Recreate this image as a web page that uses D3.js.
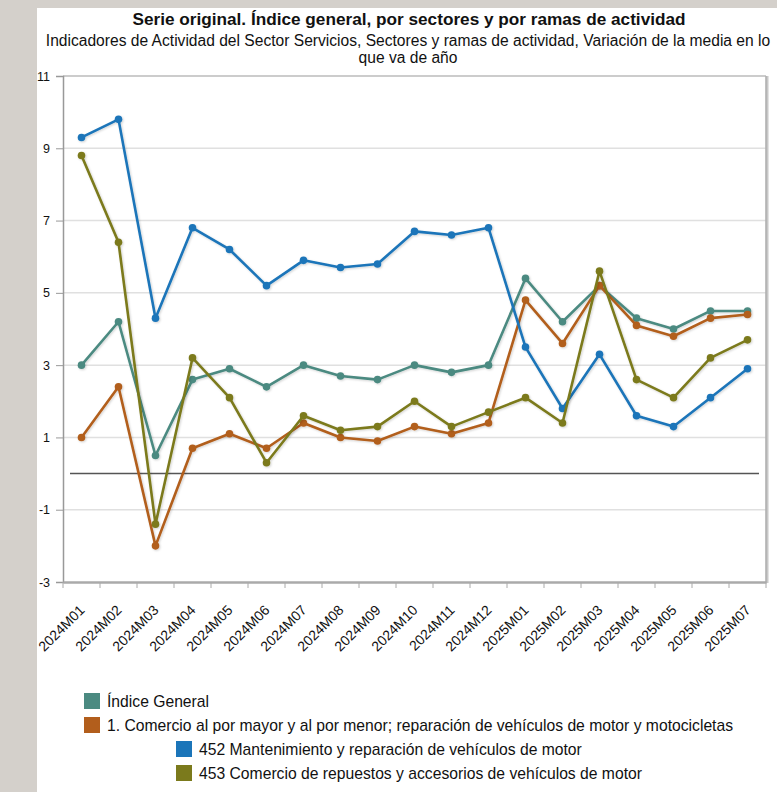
<!DOCTYPE html>
<html><head><meta charset="utf-8">
<script src="https://cdn.jsdelivr.net/npm/d3@7"></script>
<style>
html,body{margin:0;padding:0;background:#d4d0cb;}
svg{display:block;font-family:"Liberation Sans",Arial,sans-serif;}
</style></head>
<body>
<svg id="chart" width="777" height="792"></svg>
<script>
const categories = ["2024M01","2024M02","2024M03","2024M04","2024M05","2024M06","2024M07","2024M08","2024M09","2024M10","2024M11","2024M12","2025M01","2025M02","2025M03","2025M04","2025M05","2025M06","2025M07"];
const indiceGeneral = [3.0,4.2,0.5,2.6,2.9,2.4,3.0,2.7,2.6,3.0,2.8,3.0,5.4,4.2,5.2,4.3,4.0,4.5,4.5];
const comercio = [1.0,2.4,-2.0,0.7,1.1,0.7,1.4,1.0,0.9,1.3,1.1,1.4,4.8,3.6,5.2,4.1,3.8,4.3,4.4];
const mantenimiento452 = [9.3,9.8,4.3,6.8,6.2,5.2,5.9,5.7,5.8,6.7,6.6,6.8,3.5,1.8,3.3,1.6,1.3,2.1,2.9];
const repuestos453 = [8.8,6.4,-1.4,3.2,2.1,0.3,1.6,1.2,1.3,2.0,1.3,1.7,2.1,1.4,5.6,2.6,2.1,3.2,3.7];
const yTicks = [-3,-1,1,3,5,7,9,11];
const seriesNames = ["Índice General","1. Comercio al por mayor y al por menor; reparación de vehículos de motor y motocicletas","452 Mantenimiento y reparación de vehículos de motor","453 Comercio de repuestos y accesorios de vehículos de motor"];
const seriesColors = ["#4b8a81","#b25e1c","#1b75b9","#7b7a1c"];
const titleText = "Serie original. Índice general, por sectores y por ramas de actividad";
const subtitleLines = ["Indicadores de Actividad del Sector Servicios, Sectores y ramas de actividad, Variación de la media en lo","que va de año"];

const seriesData = [indiceGeneral, comercio, mantenimiento452, repuestos453];

const svg = d3.select("#chart");
svg.append("rect").attr("x",37).attr("y",8).attr("width",740).attr("height",784).attr("fill","#fff");

const defs = svg.append("defs");
const f = defs.append("filter").attr("id","sh").attr("x","-20%").attr("y","-20%").attr("width","140%").attr("height","140%");
f.append("feDropShadow").attr("dx",1).attr("dy",1).attr("stdDeviation",0.8).attr("flood-color","#000").attr("flood-opacity",0.18);

const pLeft = 63, pRight = 766, pTop = 76, pBottom = 582;
const x = d3.scaleBand().domain(categories).range([pLeft,pRight]);
const y = d3.scaleLinear().domain([-3,11]).range([pBottom,pTop]);

svg.append("text").attr("x",409).attr("y",25).attr("text-anchor","middle")
  .attr("font-size",17.2).attr("font-weight","bold").attr("fill","#111").text(titleText);
subtitleLines.forEach((t,i)=>{
  svg.append("text").attr("x",408).attr("y",46+i*17).attr("text-anchor","middle")
    .attr("font-size",15.6).attr("fill","#111").text(t);
});

svg.append("g").selectAll("line").data(yTicks.filter(v=>v>-3 && v<11)).join("line")
  .attr("x1",pLeft).attr("x2",pRight).attr("y1",d=>y(d)).attr("y2",d=>y(d))
  .attr("stroke","#e0e0e0").attr("stroke-width",1.5);

svg.append("line").attr("x1",pLeft).attr("x2",pRight).attr("y1",pTop).attr("y2",pTop).attr("stroke","#bbb").attr("stroke-width",1.5);
svg.append("line").attr("x1",pRight+1).attr("x2",pRight+1).attr("y1",pTop).attr("y2",pBottom+1).attr("stroke","#c8c8c8").attr("stroke-width",3);
svg.append("line").attr("x1",pRight).attr("x2",pRight).attr("y1",pTop).attr("y2",pBottom).attr("stroke","#a8a8a8").attr("stroke-width",1.2);

const yAxis = d3.axisLeft(y).tickValues(yTicks).tickSize(7).tickPadding(6).tickFormat(d=>String(d));
const gy = svg.append("g").attr("transform",`translate(${pLeft},0)`).call(yAxis);
gy.select(".domain").attr("stroke","#999").attr("stroke-width",1.5);
gy.selectAll(".tick line").attr("stroke","#999");
gy.selectAll("text").attr("font-size",12.5).attr("fill","#111").attr("font-family","Liberation Sans, Arial, sans-serif");

const xAxis = d3.axisBottom(x).tickSize(6).tickSizeOuter(0);
const gx = svg.append("g").attr("transform",`translate(0,${pBottom})`).call(xAxis);
gx.select(".domain").attr("stroke","#aaa").attr("stroke-width",2.5);
gx.selectAll(".tick line").attr("stroke","#aaa").attr("transform",`translate(${-x.bandwidth()/2},0)`);
gx.selectAll("text").attr("font-size",14).attr("fill","#111").attr("font-family","Liberation Sans, Arial, sans-serif")
  .attr("text-anchor","end").attr("dy",0).attr("y",0)
  .attr("transform","translate(4,29) rotate(-45)");
svg.append("line").attr("x1",pRight).attr("x2",pRight).attr("y1",pBottom).attr("y2",pBottom+6).attr("stroke","#aaa");

svg.append("line").attr("x1",70).attr("x2",759).attr("y1",y(0)).attr("y2",y(0)).attr("stroke","#555").attr("stroke-width",1.5);

const line = d3.line().x((d,i)=>x(categories[i])+x.bandwidth()/2).y(d=>y(d));
seriesData.forEach((s,k)=>{
  const g = svg.append("g").attr("filter","url(#sh)");
  g.append("path").attr("d",line(s)).attr("fill","none").attr("stroke",seriesColors[k]).attr("stroke-width",2.6).attr("stroke-linejoin","round");
  g.selectAll("circle").data(s).join("circle")
    .attr("cx",(d,i)=>x(categories[i])+x.bandwidth()/2).attr("cy",d=>y(d)).attr("r",3.8).attr("fill",seriesColors[k]);
});

const legendPos = [{x:84,y:693},{x:84,y:717},{x:176,y:741},{x:176,y:765}];
const lg = svg.append("g");
seriesNames.forEach((n,i)=>{
  const p = legendPos[i];
  lg.append("rect").attr("x",p.x).attr("y",p.y).attr("width",16).attr("height",16).attr("fill",seriesColors[i]);
  lg.append("text").attr("x",p.x+23).attr("y",p.y+14).attr("font-size",15.7).attr("fill","#111").text(n);
});
</script>
</body></html>
